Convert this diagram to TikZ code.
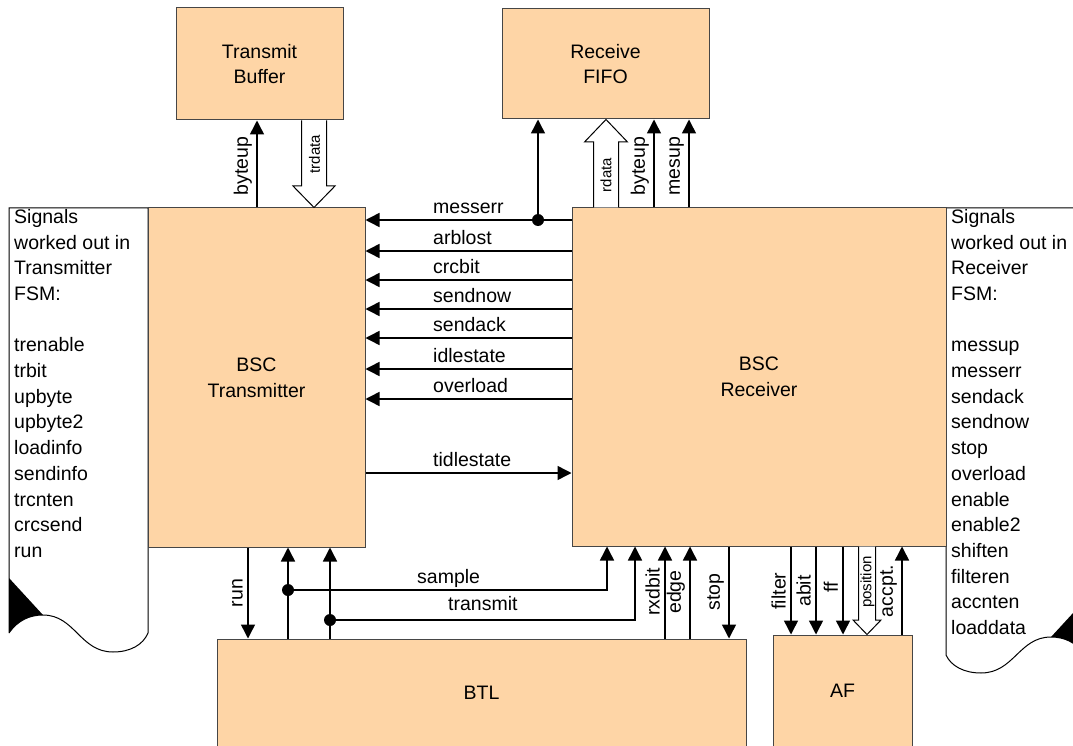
\documentclass[tikz,border=0pt]{standalone}
\usepackage{fontspec}
\setmainfont{Liberation Sans}
\usetikzlibrary{arrows.meta}
\definecolor{peach}{RGB}{254,213,166}
\definecolor{edgegray}{RGB}{70,70,70}

\begin{document}
\begin{tikzpicture}[x=1pt, y=-1pt,
  box/.style={draw=edgegray, fill=peach, line width=1pt, align=center, font=\fontsize{19.5}{25.7}\selectfont},
  sig/.style={line width=1.5pt, -{Triangle[length=14pt,width=14pt]}},
  lbl/.style={inner sep=0, font=\fontsize{19.5}{25.7}\selectfont},
  vlbl/.style={lbl, rotate=90, anchor=south},
  tiny/.style={inner sep=0, rotate=90, font=\fontsize{15}{18}\selectfont},
  fat/.style={draw, fill=white, line width=1pt},
  dot/.style={circle, fill, inner sep=0, minimum size=12pt},
  note/.style={draw=black, line width=1pt}]
\useasboundingbox (0,0) rectangle (1073,746);
\clip (0,0) rectangle (1073,746);

% side notes
\draw[note] (9,633) -- (9,208) -- (148,208) -- (148,633) .. controls (143,645) and (130,652) .. (113,652) .. controls (80,652) and (75,615) .. (43,615) .. controls (30,615) and (18,620) .. (9,633);
\fill (9,578) -- (43,615) .. controls (30,615) and (18,620) .. (9,633) -- cycle;
\draw[note] (946,655) -- (946,208) -- (1085,208) -- (1085,655) .. controls (1076,642) and (1064,637) .. (1051,637) .. controls (1019,637) and (1014,673) .. (981,673) .. controls (964,673) and (951,666) .. (946,655);
\fill (1085,600) -- (1051,637) .. controls (1064,637) and (1076,642) .. (1085,655) -- cycle;
\node[lbl, align=left, anchor=north west] (txnote) at (14,209) {Signals\\worked out in\\Transmitter\\FSM:\\[25.7pt]trenable\\trbit\\upbyte\\upbyte2\\loadinfo\\sendinfo\\trcnten\\crcsend\\run};
\node[lbl, align=left, anchor=north west] (rxnote) at (951,209) {Signals\\worked out in\\Receiver\\FSM:\\[25.7pt]messup\\messerr\\sendack\\sendnow\\stop\\overload\\enable\\enable2\\shiften\\filteren\\accnten\\loaddata};

% blocks
\node[box, minimum width=167, minimum height=112] (tb) at (259.5,64) {Transmit\\Buffer};
\node[box, minimum width=207, minimum height=110] (rf) at (605.5,64) {Receive\\FIFO};
\node[box, minimum width=217, minimum height=339] (tx) at (256.5,377.5) {BSC\\Transmitter};
\node[box, minimum width=374, minimum height=338] (rx) at (759,377) {BSC\\Receiver};
\node[box, minimum width=529, minimum height=107] (btl) at (481.5,692.5) {BTL};
\node[box, minimum width=139, minimum height=111] (af) at (842.5,690.5) {AF};

% wide data paths
\draw[fat] (301.5,0 |- tb.south) -- (301.5,186) -- (293,186) -- (314,0 |- tx.north) -- (335,186) -- (326.5,186) -- (326.5,0 |- tb.south);
\draw[fat] (593.5,0 |- rx.north) -- (593.5,142) -- (584.5,142) -- (606,0 |- rf.south) -- (627.5,142) -- (618.5,142) -- (618.5,0 |- rx.north);
\draw[fat] (858.5,0 |- rx.south) -- (858.5,620) -- (853,620) -- (867,0 |- af.north) -- (881,620) -- (875.5,620) -- (875.5,0 |- rx.south);
\node[tiny] (trd) at (314.5,154) {trdata};
\node[tiny] (rd) at (606,175) {rdata};
\node[tiny] (pos) at (867.5,582) {position};

% top signals
\draw[sig] (257,0 |- tx.north) -- (257,0 |- tb.south);
\node[dot] (d1) at (538,220) {};
\draw[sig] (d1.center) -- (538,0 |- rf.south);
\draw[sig] (654,0 |- rx.north) -- (654,0 |- rf.south);
\draw[sig] (689,0 |- rx.north) -- (689,0 |- rf.south);
\node[vlbl] (l1) at (252,166) {byteup};
\node[vlbl] (l2) at (649,166) {byteup};
\node[vlbl] (l3) at (684,166) {mesup};

% receiver to transmitter
\draw[sig] (rx.west |- 0,220) -- (tx.east |- 0,220);
\draw[sig] (rx.west |- 0,251) -- (tx.east |- 0,251);
\draw[sig] (rx.west |- 0,280) -- (tx.east |- 0,280);
\draw[sig] (rx.west |- 0,309) -- (tx.east |- 0,309);
\draw[sig] (rx.west |- 0,338) -- (tx.east |- 0,338);
\draw[sig] (rx.west |- 0,369) -- (tx.east |- 0,369);
\draw[sig] (rx.west |- 0,399) -- (tx.east |- 0,399);
\draw[sig] (tx.east |- 0,473) -- (rx.west |- 0,473);
\node[lbl, anchor=base west] (h1) at (433,213) {messerr};
\node[lbl, anchor=base west] (h2) at (433,244) {arblost};
\node[lbl, anchor=base west] (h3) at (433,273) {crcbit};
\node[lbl, anchor=base west] (h4) at (433,302) {sendnow};
\node[lbl, anchor=base west] (h5) at (433,331) {sendack};
\node[lbl, anchor=base west] (h6) at (433,362) {idlestate};
\node[lbl, anchor=base west] (h7) at (433,392) {overload};
\node[lbl, anchor=base west] (h8) at (433,466) {tidlestate};

% bottom signals
\draw[sig] (248,0 |- tx.south) -- (248,0 |- btl.north);
\node[dot] (d2) at (288,590) {};
\node[dot] (d3) at (330,620) {};
\draw[sig] (288,0 |- btl.north) -- (288,0 |- tx.south);
\draw[sig] (330,0 |- btl.north) -- (330,0 |- tx.south);
\draw[sig] (d2.center) -| (607,0 |- rx.south);
\draw[sig] (d3.center) -| (635,0 |- rx.south);
\draw[sig] (665,0 |- btl.north) -- (665,0 |- rx.south);
\draw[sig] (690,0 |- btl.north) -- (690,0 |- rx.south);
\draw[sig] (729,0 |- rx.south) -- (729,0 |- btl.north);
\draw[sig] (791,0 |- rx.south) -- (791,0 |- af.north);
\draw[sig] (816,0 |- rx.south) -- (816,0 |- af.north);
\draw[sig] (843,0 |- rx.south) -- (843,0 |- af.north);
\draw[sig] (902,0 |- af.north) -- (902,0 |- rx.south);
\node[lbl, anchor=base west] (b1) at (417,583) {sample};
\node[lbl, anchor=base west] (b2) at (448,610) {transmit};
\node[vlbl] (v1) at (243,593) {run};
\node[vlbl] (v2) at (660,592) {rxdbit};
\node[vlbl] (v3) at (685,592) {edge};
\node[vlbl] (v4) at (724,592) {stop};
\node[vlbl] (v5) at (786,591) {filter};
\node[vlbl] (v6) at (811,591) {abit};
\node[vlbl] (v7) at (838,587) {ff};
\node[vlbl] (v8) at (897,591) {accpt.};
\end{tikzpicture}
\end{document}
